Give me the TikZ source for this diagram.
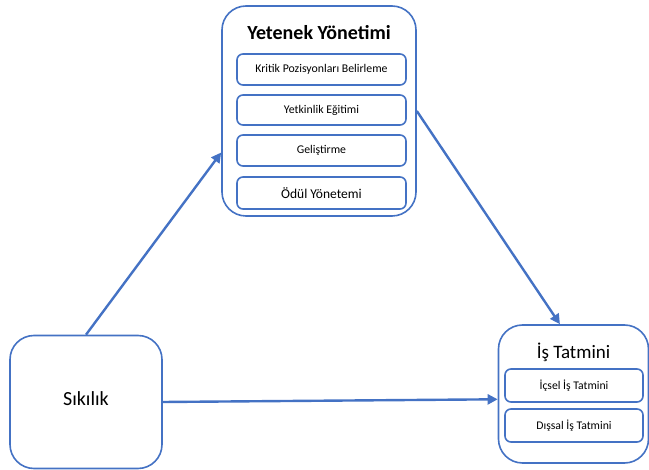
\documentclass[tikz,border=0pt]{standalone}
\usepackage{fontspec}
\setmainfont{Carlito}
\usetikzlibrary{arrows.meta}
\definecolor{mavi}{HTML}{4472C4}

\begin{document}
\begin{tikzpicture}[x=1pt,y=-1pt,
    kutu/.style={draw=mavi,line width=1.6pt,rounded corners=24pt,fill=white},
    altkutu/.style={draw=mavi,line width=1.6pt,rounded corners=6pt,minimum width=169pt},
    ok/.style={draw=mavi,line width=2.4pt,-{Triangle[length=10pt,width=10pt]}}]
            \useasboundingbox (0,0) rectangle (649,470);
            % Yetenek Yonetimi
            \node[kutu,minimum width=194pt,minimum height=210pt] (yonetim) at (319,111) {};
            \node[font=\fontsize{20}{24}\selectfont\bfseries] (baslik) at (319,33) {Yetenek Yönetimi};
            \node[altkutu,minimum height=31pt,font=\fontsize{11.8}{14}\selectfont] (kritik) at (321.5,69.5) {Kritik Pozisyonları Belirleme};
            \node[altkutu,minimum height=30pt,font=\fontsize{11.8}{14}\selectfont] (egitim) at (321.5,110) {Yetkinlik Eğitimi};
            \node[altkutu,minimum height=31pt,font=\fontsize{11.8}{14}\selectfont] (gelistirme) at (321.5,150.5) {Geliştirme};
            \node[altkutu,minimum height=32pt,font=\fontsize{13.5}{16}\selectfont] (odul) at (321.5,193) {Ödül Yönetemi};
            % Sikilik
            \node[kutu,minimum width=152pt,minimum height=133pt,font=\fontsize{20}{24}\selectfont] (sikilik) at (86,402) {\raisebox{7pt}{Sıkılık}};
            % Is Tatmini
            \node[kutu,minimum width=150pt,minimum height=138pt] (tatmin) at (573.5,394) {};
            \node[font=\fontsize{19}{22}\selectfont] (tbaslik) at (573.5,352) {İş Tatmini};
            \node[altkutu,minimum width=138pt,minimum height=33pt,font=\fontsize{11.7}{14}\selectfont] (icsel) at (574,385.5) {İçsel İş Tatmini};
            \node[altkutu,minimum width=138pt,minimum height=33pt,font=\fontsize{11.7}{14}\selectfont] (dissal) at (574,425.5) {Dışsal İş Tatmini};
            % Oklar
            \draw[ok] (sikilik.north) -- (yonetim.203);
            \draw[ok] (yonetim.east) -- (tatmin.101);
            \draw[ok] (sikilik.east) -- (tatmin.184);
        \end{tikzpicture}
\end{document}
